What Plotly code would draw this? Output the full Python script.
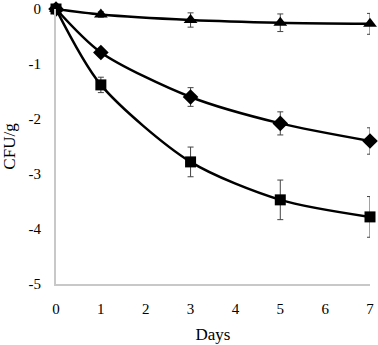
import plotly.graph_objects as go

days = [0, 1, 3, 5, 7]
tri = [0, -0.1, -0.2, -0.25, -0.27]
tri_err = [0.0, 0.05, 0.13, 0.16, 0.19]
dia = [0, -0.79, -1.6, -2.08, -2.4]
dia_err = [0.0, 0.05, 0.17, 0.21, 0.24]
sq = [0, -1.38, -2.78, -3.47, -3.78]
sq_err = [0.0, 0.14, 0.27, 0.36, 0.37]

yticks = [0, -1, -2, -3, -4, -5]
ytext = ["0", "-1", "-2", "-3", "-4", "-5"]
xticks = [0, 1, 2, 3, 4, 5, 6, 7]

fig = go.Figure()
for y, e, sym, sz in [(tri, tri_err, "triangle-up", 12), (dia, dia_err, "diamond", 12), (sq, sq_err, "square", 11)]:
    fig.add_trace(go.Scatter(
        x=days, y=y, mode="lines+markers",
        line=dict(color="black", width=2.5, shape="spline", smoothing=0.8),
        marker=dict(symbol=sym, size=sz, color="black"),
        error_y=dict(type="data", array=e, visible=True, color="#444", thickness=1, width=3),
        cliponaxis=False, showlegend=False,
    ))

fig.update_layout(
    width=378, height=345,
    margin=dict(l=56, r=8, t=9, b=61),
    paper_bgcolor="white", plot_bgcolor="white",
    font=dict(family="Liberation Serif", size=15, color="black"),
    xaxis=dict(range=[0, 7], tickvals=xticks, showgrid=False, zeroline=False,
               showline=True, linecolor="#c8c8c8", linewidth=2, ticks="",
               ticklabelstandoff=10, automargin=False,
               title=dict(text="Days", font=dict(size=17), standoff=12)),
    yaxis=dict(range=[-5, 0], tickvals=yticks, ticktext=ytext, showgrid=False, zeroline=False,
               showline=True, linecolor="#c8c8c8", linewidth=2, ticks="",
               ticklabelstandoff=10, automargin=False,
               title=dict(text="CFU/g", font=dict(size=17), standoff=10)),
)
fig.write_html("out.html", config={"displayModeBar": False},
               post_script="document.body.style.margin='0px';")
